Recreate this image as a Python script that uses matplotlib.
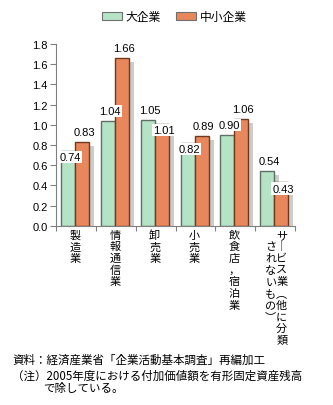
import numpy as np
import matplotlib
matplotlib.use("Agg")
import matplotlib.pyplot as plt
from matplotlib.patches import Rectangle

JP = ["Noto Sans CJK JP", "DejaVu Sans"]
NUM = ["Liberation Sans", "DejaVu Sans"]

# data
categories = ["製造業", "情報通信業", "卸売業", "小売業", "飲食店，宿泊業",
              ["サ︱ビス業︵他に分類", "されないもの︶"]]
large = [0.74, 1.04, 1.05, 0.82, 0.90, 0.54]
small = [0.83, 1.66, 1.01, 0.89, 1.06, 0.43]
# label sits above the bar top (True) or overlaps it (False)
large_above = [False, True, True, False, True, True]
small_above = [True, True, False, True, True, False]
series_names = ["大企業", "中小企業"]
yticks = [0.0, 0.2, 0.4, 0.6, 0.8, 1.0, 1.2, 1.4, 1.6, 1.8]
source_note = "資料：経済産業省「企業活動基本調査」再編加工"
note_1 = "（注）2005年度における付加価値額を有形固定資産残高"
note_2 = "で除している。"

green = "#b5e3c6"
green_edge = "#5f6f63"
orange = "#e8875b"
orange_edge = "#6e3a1e"
shadow = "#cccccc"

fig = plt.figure(figsize=(3.33, 4.06), dpi=100)
ax = fig.add_axes([56 / 333, 1 - 226.7 / 406, 239 / 333, 181.7 / 406])

x = np.arange(len(categories))
w = 0.3515
gx = x - 0.374 + w / 2
ox = gx + w
sdx = 0.1255
sdy = 0.04

# drop shadows behind the bars
ax.bar(gx + sdx, np.array(large) - sdy, w, color=shadow, zorder=1, linewidth=0)
ax.bar(ox + sdx, np.array(small) - sdy, w, color=shadow, zorder=1, linewidth=0)
ax.bar(gx, large, w, color=green, edgecolor=green_edge, linewidth=1, zorder=2)
ax.bar(ox, small, w, color=orange, edgecolor=orange_edge, linewidth=1, zorder=3)

def value_label(xc, v, above):
    dy = 7.2 if above else -4.5
    ax.annotate(f"{v:.2f}", xy=(xc, v), xytext=(1.4, dy), textcoords="offset points",
                ha="center", va="center", fontsize=8, family=NUM, zorder=5,
                bbox=dict(boxstyle="square,pad=0.1", fc="white", ec="none"))

for i in range(len(categories)):
    value_label(gx[i], large[i], large_above[i])
    value_label(ox[i], small[i], small_above[i])

ax.set_xlim(-0.5, len(categories) - 0.5)
ax.set_ylim(0, 1.8)
ax.set_yticks(yticks)
ax.set_yticklabels([f"{t:.1f}" for t in yticks], family=NUM, fontsize=8)
ax.set_xticks(np.arange(len(categories) + 1) - 0.5)
ax.set_xticklabels([])
ax.tick_params(axis="y", direction="out", length=4, width=0.8, color="#808080", pad=2)
ax.tick_params(axis="x", direction="out", length=3.5, width=0.8, color="#808080")
for s in ["top", "right"]:
    ax.spines[s].set_visible(False)
for s in ["left", "bottom"]:
    ax.spines[s].set_color("#808080")
    ax.spines[s].set_linewidth(0.8)

# vertical category names, one character at a time
step = 11.7 * 0.72
centers = x - 0.374 + w
for i, name in enumerate(categories):
    cols = name if isinstance(name, list) else [name]
    if len(cols) == 1:
        offsets = [(0, 0)]
    else:
        offsets = [(7.5 * 0.72, 0), (-3.5 * 0.72, -step)]
    for col, (dx, dy0) in zip(cols, offsets):
        for k, ch in enumerate(col):
            ax.annotate(ch, xy=(centers[i], 0), xytext=(dx, -9 * 0.72 + dy0 - k * step),
                        textcoords="offset points", ha="center", va="center",
                        fontsize=8, family=JP, annotation_clip=False)

# legend
handles = [Rectangle((0, 0), 1, 1, fc=green, ec="#707070", lw=0.8),
           Rectangle((0, 0), 1, 1, fc=orange, ec="#707070", lw=0.8)]
fig.legend(handles, series_names, loc="center", bbox_to_anchor=(0.524, 1 - 17.5 / 406),
           ncol=2, frameon=False, prop=dict(family=JP, size=8.5),
           handlelength=1.7, handleheight=0.7, handletextpad=0.3, columnspacing=1.3,
           borderpad=0, borderaxespad=0)

fig.text(12 / 333, 1 - 360 / 406, source_note, family=JP, fontsize=8.3, va="center")
fig.text(12 / 333, 1 - 376.7 / 406, note_1, family=JP, fontsize=8.3, va="center")
fig.text(43 / 333, 1 - 388.3 / 406, note_2, family=JP, fontsize=8.3, va="center")

fig.savefig("out.png", dpi=100)
